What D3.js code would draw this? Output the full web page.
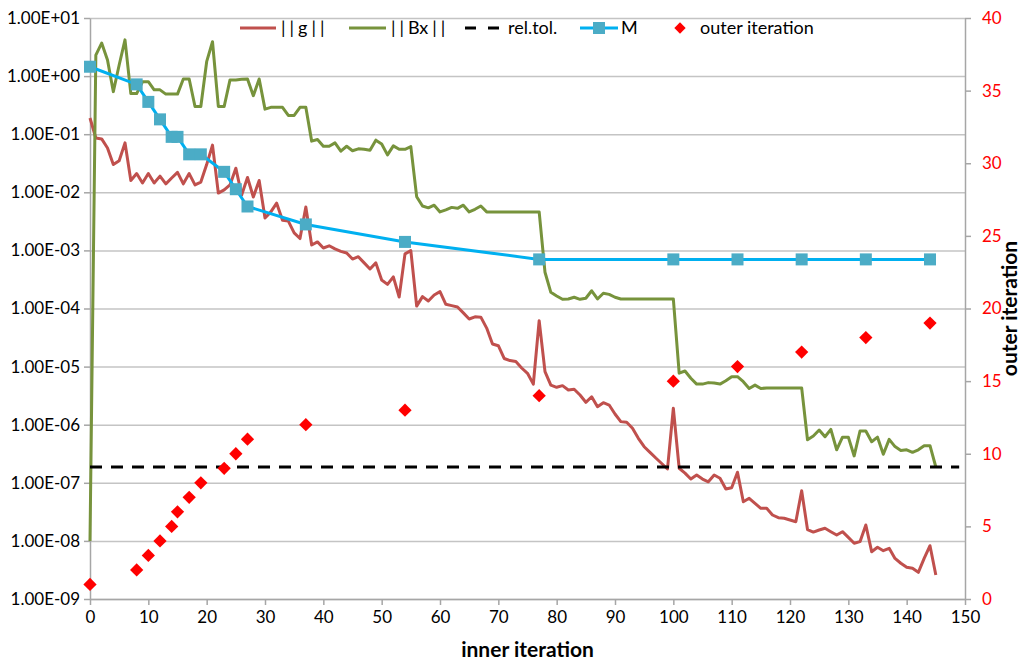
<!DOCTYPE html>
<html>
<head>
<meta charset="utf-8">
<script src="https://cdn.jsdelivr.net/npm/d3@7"></script>
<style>
  body { margin: 0; background: #fff; }
  svg text { font-family: Lato, "Liberation Sans", sans-serif; }
</style>
</head>
<body>
<svg id="chart" width="1032" height="660"></svg>
<script>
// ||g|| per inner iteration (index = inner iteration 0..145)
const gNorm = [
  0.19, 0.086, 0.083, 0.058, 0.030, 0.035, 0.071, 0.016, 0.021, 0.0145,
  0.021, 0.0145, 0.019, 0.014, 0.0176, 0.022, 0.014, 0.021, 0.0134, 0.015,
  0.030, 0.065, 0.0097, 0.011, 0.0134, 0.026, 0.009, 0.018, 0.0083, 0.016,
  0.0036, 0.0046, 0.0065, 0.0033, 0.0032, 0.0020, 0.0016, 0.0056, 0.00124, 0.0014,
  0.0011, 0.0012, 0.00106, 0.00096, 0.0009, 0.00071, 0.00078, 0.00061, 0.00048, 0.00061,
  0.00031, 0.00026, 0.00035, 0.000158, 0.00087, 0.00099, 0.00011, 0.00016, 0.000135, 0.000171,
  0.000195, 0.000118, 0.000112, 0.000106, 8.4e-5, 6.6e-5, 7.2e-5, 7.1e-5, 4.6e-5, 2.45e-5,
  2.29e-5, 1.38e-5, 1.27e-5, 1.22e-5, 9.46e-6, 7.67e-6, 5.0e-6, 6.17e-5, 8.17e-6, 4.8e-6,
  4.4e-6, 4.7e-6, 3.96e-6, 4.07e-6, 3.24e-6, 2.43e-6, 3.03e-6, 2.04e-6, 2.39e-6, 2.18e-6,
  1.53e-6, 1.13e-6, 1.1e-6, 8.67e-7, 5.83e-7, 4.18e-7, 3.35e-7, 2.67e-7, 2.15e-7, 1.73e-7,
  1.92e-6, 1.78e-7, 1.47e-7, 1.16e-7, 1.36e-7, 1.16e-7, 1.04e-7, 1.36e-7, 1.2e-7, 7.82e-8,
  8.24e-8, 1.52e-7, 4.73e-8, 5.41e-8, 4.44e-8, 3.64e-8, 3.64e-8, 2.79e-8, 2.51e-8, 2.45e-8,
  2.29e-8, 2.14e-8, 7.31e-8, 1.57e-8, 1.42e-8, 1.54e-8, 1.65e-8, 1.44e-8, 1.26e-8, 1.44e-8,
  1.15e-8, 9.1e-9, 9.7e-9, 1.88e-8, 6.52e-9, 7.76e-9, 6.78e-9, 7.46e-9, 5.0e-9, 4.12e-9,
  3.51e-9, 3.38e-9, 2.88e-9, 5.0e-9, 8.27e-9, 2.59e-9
];

// ||Bx|| per inner iteration
const bxNorm = [
  1e-8, 2.3, 3.7, 1.9, 0.54, 1.55, 4.2, 0.50, 0.50, 0.80,
  0.80, 0.58, 0.58, 0.49, 0.49, 0.49, 0.89, 0.89, 0.30, 0.30,
  1.77, 3.9, 0.30, 0.30, 0.86, 0.86, 0.88, 0.89, 0.46, 0.89,
  0.27, 0.29, 0.29, 0.29, 0.21, 0.21, 0.29, 0.29, 0.076, 0.081,
  0.062, 0.062, 0.071, 0.051, 0.062, 0.052, 0.056, 0.055, 0.053, 0.079,
  0.068, 0.044, 0.063, 0.055, 0.055, 0.061, 0.0084, 0.0058, 0.0054, 0.0060,
  0.0046, 0.0050, 0.0055, 0.0053, 0.0060, 0.0046, 0.0051, 0.0058, 0.0046, 0.0046,
  0.0046, 0.0046, 0.0046, 0.0046, 0.0046, 0.0046, 0.0046, 0.0046, 0.00042, 0.00019,
  0.000164, 0.000144, 0.000146, 0.000156, 0.000144, 0.00015, 0.000202, 0.000146, 0.000183, 0.000175,
  0.000156, 0.000146, 0.000146, 0.000146, 0.000146, 0.000146, 0.000146, 0.000146, 0.000146, 0.000146,
  0.000146, 7.7e-6, 8.4e-6, 6.3e-6, 5.0e-6, 5.0e-6, 5.3e-6, 5.2e-6, 5.0e-6, 5.7e-6,
  6.7e-6, 6.7e-6, 5.5e-6, 4.2e-6, 4.8e-6, 4.2e-6, 4.3e-6, 4.3e-6, 4.3e-6, 4.3e-6,
  4.3e-6, 4.3e-6, 4.3e-6, 5.5e-7, 6.4e-7, 8.1e-7, 6.2e-7, 8.3e-7, 3.7e-7, 6.1e-7,
  6.1e-7, 2.9e-7, 7.8e-7, 7.8e-7, 5.1e-7, 6.1e-7, 3.1e-7, 5.6e-7, 4.2e-7, 3.6e-7,
  3.7e-7, 3.35e-7, 3.7e-7, 4.35e-7, 4.35e-7, 1.87e-7
];

// Inner iterations at which an outer iteration starts, and its number
const outerInner = [0, 8, 10, 12, 14, 15, 17, 19, 23, 25, 27, 37, 54, 77, 100, 111, 122, 133, 144];
const outerCount = [1, 2, 3, 4, 5, 6, 7, 8, 9, 10, 11, 12, 13, 14, 15, 16, 17, 18, 19];
// M at each outer iteration
const mValues = [1.45, 0.72, 0.36, 0.18, 0.09, 0.09, 0.045, 0.045, 0.0225, 0.0113, 0.0057,
                 0.0028, 0.0014, 0.0007, 0.0007, 0.0007, 0.0007, 0.0007, 0.0007];

// Relative tolerance and the inner-iteration span it is drawn over
const relTol = 1.87e-7;
const relTolSpan = [0, 149];

// Axis ticks
const leftTicks = [1e1, 1e0, 1e-1, 1e-2, 1e-3, 1e-4, 1e-5, 1e-6, 1e-7, 1e-8, 1e-9];
const bottomTicks = [0, 10, 20, 30, 40, 50, 60, 70, 80, 90, 100, 110, 120, 130, 140, 150];
const rightTicks = [0, 5, 10, 15, 20, 25, 30, 35, 40];
const legendLabels = ["||g||", "||Bx||", "rel.tol.", "M", "outer iteration"];
const xTitle = "inner iteration";
const yRightTitle = "outer iteration";

const colors = {
  g: "#c0504d", bx: "#77933c", tol: "#000000", mLine: "#00b0f0", mMark: "#4bacc6",
  outer: "#ff0000", grid: "#c4c4c4", axis: "#a6a6a6", text: "#000000"
};

const svg = d3.select("#chart");
const plot = { left: 90, right: 965, top: 18, bottom: 599 };

const x = d3.scaleLinear().domain([0, 150]).range([plot.left, plot.right]);
const y = d3.scaleLog().domain([1e-9, 1e1]).range([plot.bottom, plot.top]);
const yR = d3.scaleLinear().domain([0, 40]).range([plot.bottom, plot.top]);

const fmtSci = v => {
  const e = Math.round(Math.log10(v));
  return "1.00E" + (e < 0 ? "-" : "+") + String(Math.abs(e)).padStart(2, "0");
};

// Horizontal gridlines
svg.append("g")
  .attr("transform", `translate(${plot.left},0)`)
  .call(d3.axisLeft(y).tickValues(leftTicks).tickSize(-(plot.right - plot.left)).tickFormat(""))
  .call(g => g.select(".domain").remove())
  .call(g => g.selectAll("line").attr("stroke", colors.grid).attr("stroke-width", 1.5));

// Left axis
const axL = svg.append("g")
  .attr("transform", `translate(${plot.left},0)`)
  .call(d3.axisLeft(y).tickValues(leftTicks).tickFormat(fmtSci).tickSize(6).tickSizeOuter(0).tickPadding(4));
axL.select(".domain").attr("stroke", colors.axis).attr("stroke-width", 1.5);
axL.selectAll(".tick line").attr("stroke", colors.axis).attr("stroke-width", 1.5);
axL.selectAll("text").attr("font-size", 17).attr("fill", colors.text);

// Bottom axis
const axB = svg.append("g")
  .attr("transform", `translate(0,${plot.bottom})`)
  .call(d3.axisBottom(x).tickValues(bottomTicks).tickFormat(d3.format("d")).tickSize(6).tickSizeOuter(0).tickPadding(6));
axB.select(".domain").attr("stroke", colors.axis).attr("stroke-width", 1.5);
axB.selectAll(".tick line").attr("stroke", colors.axis).attr("stroke-width", 1.5);
axB.selectAll("text").attr("font-size", 17).attr("fill", colors.text);

// Right (secondary) axis
const axR = svg.append("g")
  .attr("transform", `translate(${plot.right},0)`)
  .call(d3.axisRight(yR).tickValues(rightTicks).tickFormat(d3.format("d")).tickSize(6).tickSizeOuter(0).tickPadding(11));
axR.select(".domain").attr("stroke", colors.axis).attr("stroke-width", 1.5);
axR.selectAll(".tick line").attr("stroke", colors.axis).attr("stroke-width", 1.5);
axR.selectAll("text").attr("font-size", 17).attr("fill", colors.outer);

// Axis titles
svg.append("text")
  .attr("x", (plot.left + plot.right) / 2).attr("y", 657)
  .attr("text-anchor", "middle").attr("font-size", 21).attr("font-weight", "bold")
  .text(xTitle);
svg.append("text")
  .attr("transform", `translate(1017,${(plot.top + plot.bottom) / 2}) rotate(-90)`)
  .attr("text-anchor", "middle").attr("font-size", 21).attr("font-weight", "bold")
  .text(yRightTitle);

// Series
const lineG = d3.line().x(i => x(i)).y(i => y(gNorm[i]));
const lineBx = d3.line().x(i => x(i)).y(i => y(bxNorm[i]));

svg.append("path").attr("d", lineG(d3.range(gNorm.length)))
  .attr("fill", "none").attr("stroke", colors.g).attr("stroke-width", 3).attr("stroke-linejoin", "round");
svg.append("path").attr("d", lineBx(d3.range(bxNorm.length)))
  .attr("fill", "none").attr("stroke", colors.bx).attr("stroke-width", 3).attr("stroke-linejoin", "round");

// Relative tolerance
svg.append("line")
  .attr("x1", x(relTolSpan[0])).attr("x2", x(relTolSpan[1]))
  .attr("y1", y(relTol)).attr("y2", y(relTol))
  .attr("stroke", colors.tol).attr("stroke-width", 3).attr("stroke-dasharray", "12,9");

// M with square markers
const lineM = d3.line().x((d, i) => x(outerInner[i])).y(d => y(d));
svg.append("path").attr("d", lineM(mValues))
  .attr("fill", "none").attr("stroke", colors.mLine).attr("stroke-width", 3);
const sq = 12;
svg.append("g").selectAll("rect").data(mValues).join("rect")
  .attr("x", (d, i) => x(outerInner[i]) - sq / 2)
  .attr("y", d => y(d) - sq / 2)
  .attr("width", sq).attr("height", sq)
  .attr("fill", colors.mMark);

// Outer iteration diamonds on the secondary axis
const diamond = d3.symbol().type(d3.symbolSquare).size(88);
svg.append("g").selectAll("path").data(outerCount).join("path")
  .attr("transform", (d, i) => `translate(${x(outerInner[i])},${yR(d)}) rotate(45)`)
  .attr("d", diamond)
  .attr("fill", colors.outer);

// Legend
const lg = svg.append("g").attr("font-size", 18);
const ly = 28;
const legendItems = [
  { x0: 240, x1: 276, tx: 281, kind: "line", color: colors.g },
  { x0: 349, x1: 386, tx: 391, kind: "line", color: colors.bx },
  { x0: 465, x1: 499, tx: 508, kind: "dash", color: colors.tol },
  { x0: 580, x1: 618, tx: 621, kind: "mark", color: colors.mLine },
  { x0: 680, x1: 680, tx: 700, kind: "diamond", color: colors.outer }
];

// Writes a legend label, giving the norm bars a little air around them
function legendText(sel, label) {
  const parts = label.match(/\|+|[^|]+/g);
  parts.forEach((p, j) => {
    const isBar = p[0] === "|";
    sel.append("tspan")
      .attr("letter-spacing", isBar ? 4 : 0)
      .attr("dx", (!isBar && j > 0) ? 0 : (isBar && j > 0 ? 4 : 0))
      .text(p);
  });
}

legendItems.forEach((it, k) => {
  if (it.kind === "line" || it.kind === "mark") {
    lg.append("line").attr("x1", it.x0).attr("x2", it.x1).attr("y1", ly).attr("y2", ly)
      .attr("stroke", it.color).attr("stroke-width", 3);
    if (it.kind === "mark") {
      lg.append("rect").attr("x", (it.x0 + it.x1) / 2 - sq / 2).attr("y", ly - sq / 2)
        .attr("width", sq).attr("height", sq).attr("fill", colors.mMark);
    }
  } else if (it.kind === "dash") {
    lg.append("line").attr("x1", it.x0).attr("x2", it.x1).attr("y1", ly).attr("y2", ly)
      .attr("stroke", it.color).attr("stroke-width", 3).attr("stroke-dasharray", "11,12");
  } else {
    lg.append("path").attr("transform", `translate(${it.x0},${ly}) rotate(45)`)
      .attr("d", d3.symbol().type(d3.symbolSquare).size(64)).attr("fill", it.color);
  }
  const t = lg.append("text").attr("x", it.tx).attr("y", ly).attr("dy", "0.35em");
  legendText(t, legendLabels[k]);
});
</script>
</body>
</html>
